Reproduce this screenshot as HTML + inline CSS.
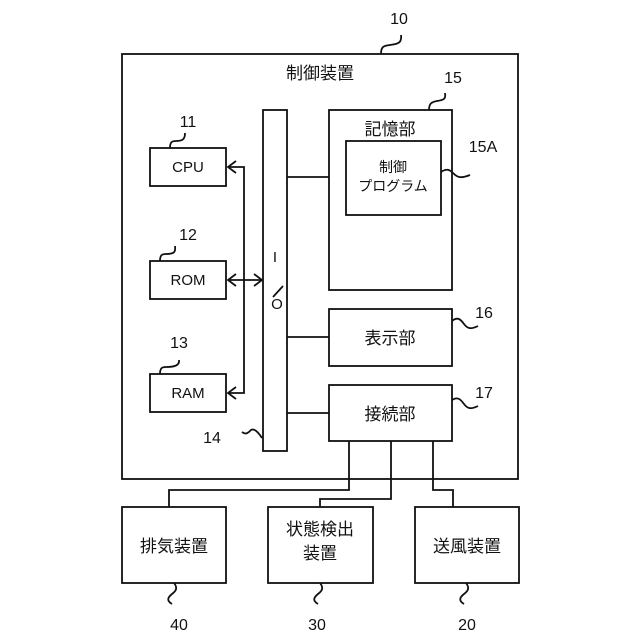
<!DOCTYPE html>
<html><head><meta charset="utf-8"><style>
html,body{margin:0;padding:0;background:#fff;}
svg{display:block;}
text{font-family:"Liberation Sans","Noto Sans CJK JP",sans-serif;fill:#111;}
</style></head><body>
<svg width="640" height="640" viewBox="0 0 640 640" xmlns="http://www.w3.org/2000/svg">
<g fill="none" stroke="#111" stroke-width="1.8">
<rect x="122" y="54" width="396" height="425"/>
<rect x="263" y="110" width="24" height="341"/>
<rect x="329" y="110" width="123" height="180"/>
<rect x="346" y="141" width="95" height="74"/>
<rect x="150" y="148" width="76" height="38"/>
<rect x="150" y="261" width="76" height="38"/>
<rect x="150" y="374" width="76" height="38"/>
<rect x="329" y="309" width="123" height="57"/>
<rect x="329" y="385" width="123" height="56"/>
<rect x="122" y="507" width="104" height="76"/>
<rect x="268" y="507" width="105" height="76"/>
<rect x="415" y="507" width="104" height="76"/>
<path d="M228 167 H244 V393 H228"/>
<path d="M228 280 H262"/>
<path d="M236 161 L228 167 L236 173 M236 274 L228 280 L236 286 M236 387 L228 393 L236 399 M254 274 L262 280 L254 286"/>
<path d="M287 177 H329 M287 337 H329 M287 413 H329"/>
<path d="M349 441 V490 H169 V507 M391 441 V499 H320 V507 M433 441 V490 H453 V507"/>
<path d="M381 54 C381 46 384 46 390 45 C398 44 402 43 401 35"/>
<path d="M429 110 C429 103 432 102 437 101 C444 100 446 99 445 93"/>
<path d="M170 148 C170 142 172 141 176 141 C183 141 185 139 185 133"/>
<path d="M160 261 C160 255 162 254 166 254 C173 254 176 253 175 246"/>
<path d="M160 374 C160 368 162 367 166 367 C173 367 180 366 179 360"/>
<path d="M441 172 C447 168 450 170 453 173 C457 177 460 179 470 175"/>
<path d="M452 321 C458 316 461 320 464 324 C467 328 470 330 478 326"/>
<path d="M452 400 C458 396 461 400 464 404 C467 408 470 410 478 406"/>
<path d="M262 438 C258 432 254 428 251 430 C248 433 246 435 242 432"/>
<path d="M174 583 C178 588 176 591 172 594 C167 598 167 601 172 604"/>
<path d="M320 583 C324 588 322 591 318 594 C313 598 313 601 318 604"/>
<path d="M466 583 C470 588 468 591 464 594 C459 598 459 601 464 604"/>
<path d="M273 297 L283 286"/>
</g>
<g font-size="16" text-anchor="middle">
<text x="399" y="24">10</text>
<text x="320" y="79" font-size="17">制御装置</text>
<text x="453" y="83">15</text>
<text x="390" y="135" font-size="17">記憶部</text>
<text x="483" y="152">15A</text>
<text x="393" y="172" font-size="14">制御</text>
<text x="393" y="191" font-size="14">プログラム</text>
<text x="188" y="127">11</text>
<text x="188" y="240">12</text>
<text x="179" y="348">13</text>
<text x="188" y="172" font-size="15">CPU</text>
<text x="188" y="285" font-size="15">ROM</text>
<text x="188" y="398" font-size="15">RAM</text>
<text x="275" y="262" font-size="15" font-family="Liberation Serif">I</text>
<text x="277" y="309" font-size="15">O</text>
<text x="484" y="318">16</text>
<text x="484" y="398">17</text>
<text x="212" y="443">14</text>
<text x="390" y="344" font-size="17">表示部</text>
<text x="390" y="420" font-size="17">接続部</text>
<text x="174" y="552" font-size="17">排気装置</text>
<text x="320" y="535" font-size="17">状態検出</text>
<text x="320" y="559" font-size="17">装置</text>
<text x="467" y="552" font-size="17">送風装置</text>
<text x="179" y="630">40</text>
<text x="317" y="630">30</text>
<text x="467" y="630">20</text>
</g>
</svg>
</body></html>
